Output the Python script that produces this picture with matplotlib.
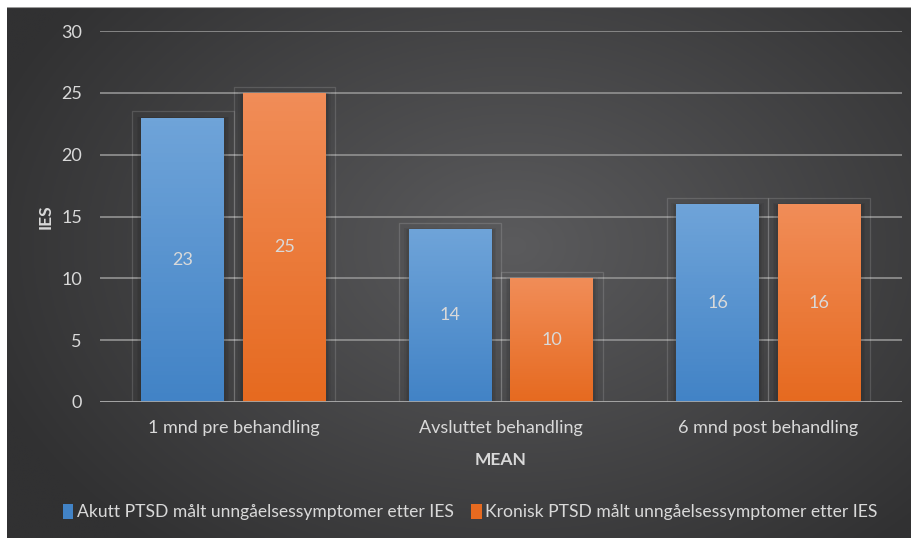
import numpy as np
import matplotlib.pyplot as plt
from matplotlib.patches import Rectangle
from matplotlib.colors import to_rgb

plt.rcParams["font.family"] = ["Lato", "DejaVu Sans"]

categories = ["1 mnd pre behandling", "Avsluttet behandling", "6 mnd post behandling"]
akutt = [23, 14, 16]
kronisk = [25, 10, 16]
series_names = [
    "Akutt PTSD målt unngåelsessymptomer etter IES",
    "Kronisk PTSD målt unngåelsessymptomer etter IES",
]
yticks = [0, 5, 10, 15, 20, 25, 30]

BLUE = ("#6fa4d9", "#4283c6")
ORANGE = ("#f18d58", "#e66a20")
TEXT = "#d9d9d9"
BAR_W = 0.31
OFFSET = 0.19


def vgrad(top, bottom, n=64):
    t = np.linspace(0, 1, n)[:, None, None]
    return (1 - t) * np.array(to_rgb(top)) + t * np.array(to_rgb(bottom))


fig = plt.figure(figsize=(9.11, 5.38), dpi=100)

# dark radial background
bg = fig.add_axes([7 / 911, 0, 904 / 911, 531 / 538])
bg.axis("off")
yy, xx = np.mgrid[0:1:300j, 0:1:500j]
r = np.sqrt(((xx - 0.56) / 0.62) ** 2 + ((yy - 0.45) / 0.75) ** 2)
r = np.clip(r, 0, 1)
light = np.array(to_rgb("#5b5b5d"))
dark = np.array(to_rgb("#313132"))
img = (1 - r[..., None]) * light + r[..., None] * dark
bg.imshow(img, aspect="auto", extent=[0, 1, 0, 1], origin="upper")
bg.set_xlim(0, 1)
bg.set_ylim(0, 1)
bg.axhline(1, color="#9a9a9a", lw=1.5)

ax = fig.add_axes([100 / 911, 136 / 538, 802 / 911, 371 / 538])
ax.patch.set_alpha(0)
x = np.arange(len(categories))

for vals, cols, sign, name in [
    (akutt, BLUE, -1, series_names[0]),
    (kronisk, ORANGE, 1, series_names[1]),
]:
    pos = x + sign * OFFSET
    bars = ax.bar(pos, vals, BAR_W, color=cols[1], zorder=3, label=name)
    for b, p, v in zip(bars, pos, vals):
        # soft shadow
        for k in range(3):
            pad = 0.006 * (k + 1)
            ax.add_patch(Rectangle((p - BAR_W / 2 - pad, -0.1), BAR_W + pad * 2, v + pad * 10,
                                   facecolor="black", alpha=0.05, lw=0, zorder=2))
        # faint outline frame
        ax.add_patch(Rectangle((p - 0.19, -0.05), 0.38, v + 0.55, fill=False,
                               edgecolor="white", alpha=0.14, lw=0.9, zorder=2))
        im = ax.imshow(vgrad(cols[0], cols[1]), extent=[p - BAR_W / 2, p + BAR_W / 2, 0, v],
                       aspect="auto", origin="upper", zorder=3.5)
        im.set_clip_path(b)
        ax.text(p, v / 2, f"{v}", ha="center", va="center", color=TEXT, fontsize=13, zorder=5)

ax.set_xlim(-0.5, len(categories) - 0.5)
ax.set_ylim(0, 30)
ax.set_yticks(yticks)
ax.set_xticks(x)
ax.set_xticklabels(categories)
ax.grid(axis="y", color="#8c8c8c", lw=1.3, zorder=1)
ax.axhline(0, color="#a6a6a6", lw=2, zorder=4)
for s in ax.spines.values():
    s.set_visible(False)
ax.tick_params(axis="y", length=0, pad=13, labelsize=13, labelcolor=TEXT)
ax.tick_params(axis="x", length=0, pad=13, labelsize=13, labelcolor=TEXT)

ax.set_ylabel("IES", fontsize=12.5, fontweight="bold", color=TEXT)
ax.yaxis.set_label_coords(-0.058, 0.5)
ax.set_xlabel("MEAN", fontsize=12.5, fontweight="bold", color=TEXT)
ax.xaxis.set_label_coords(0.5, -0.135)

fig.legend(loc="center", bbox_to_anchor=(0.516, 0.048), ncol=2, frameon=False,
           fontsize=12.6, labelcolor=TEXT, handlelength=0.6, handleheight=0.9,
           handletextpad=0.2, columnspacing=1.0)

fig.savefig("out.png", dpi=100, facecolor="white")
